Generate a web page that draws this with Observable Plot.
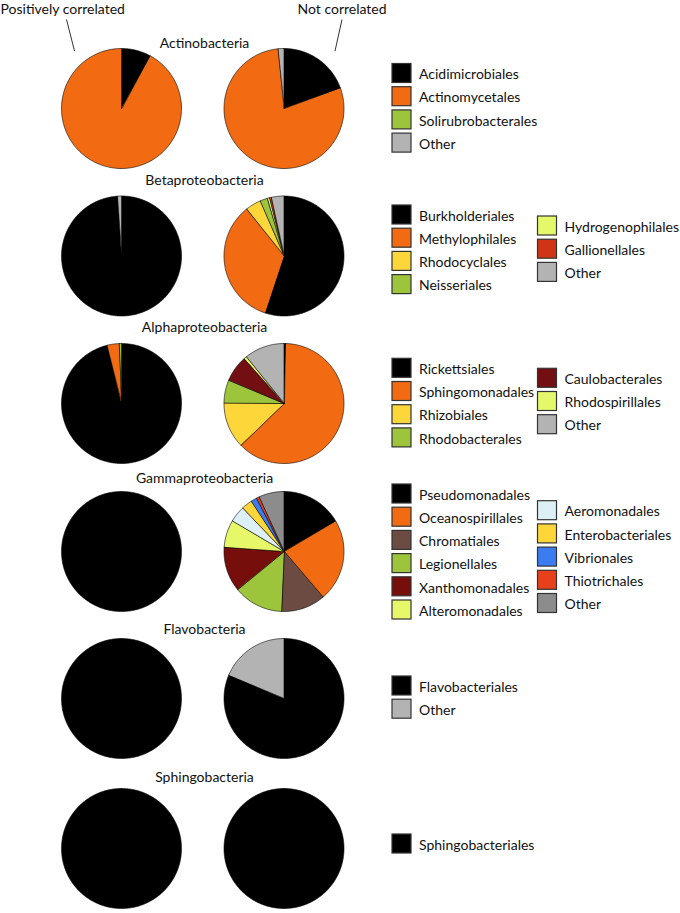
<!DOCTYPE html>
<html>
<head>
<meta charset="utf-8">
<script src="https://cdn.jsdelivr.net/npm/d3@7"></script>
<script src="https://cdn.jsdelivr.net/npm/@observablehq/plot@0.6"></script>
<style>
  html, body { margin: 0; padding: 0; background: #fff; }
  #chart svg { display: block; }
</style>
</head>
<body>
<div id="chart"></div>
<script>
// ---------- DATA ----------
const classNames = ["Actinobacteria", "Betaproteobacteria", "Alphaproteobacteria", "Gammaproteobacteria", "Flavobacteria", "Sphingobacteria"];
const columnLabels = ["Positively correlated", "Not correlated"];

const actinoOrders = ["Acidimicrobiales", "Actinomycetales", "Solirubrobacterales", "Other"];
const actinoPositive = [8, 92, 0, 0];
const actinoNot = [19.5, 79, 0, 1.5];

const betaOrders = ["Burkholderiales", "Methylophilales", "Rhodocyclales", "Neisseriales", "Hydrogenophilales", "Gallionellales", "Other"];
const betaPositive = [99, 0, 0, 0, 0, 0, 1];
const betaNot = [55.1, 34.3, 4.2, 2.0, 0.6, 0.5, 3.3];

const alphaOrders = ["Rickettsiales", "Sphingomonadales", "Rhizobiales", "Rhodobacterales", "Caulobacterales", "Rhodospirillales", "Other"];
const alphaPositive = [96.2, 3.3, 0, 0.5, 0, 0, 0];
const alphaNot = [0.5, 62.3, 12.4, 6.2, 7.1, 0.8, 10.7];

const gammaOrders = ["Pseudomonadales", "Oceanospirillales", "Chromatiales", "Legionellales", "Xanthomonadales", "Alteromonadales", "Aeromonadales", "Enterobacteriales", "Vibrionales", "Thiotrichales", "Other"];
const gammaPositive = [100, 0, 0, 0, 0, 0, 0, 0, 0, 0, 0];
const gammaNot = [16.6, 22.2, 11.9, 13.4, 12.1, 7.4, 4.4, 2.9, 1.6, 0.8, 6.7];

const flavoOrders = ["Flavobacteriales", "Other"];
const flavoPositive = [100, 0];
const flavoNot = [81.4, 18.6];

const sphingoOrders = ["Sphingobacteriales"];
const sphingoPositive = [100];
const sphingoNot = [100];

// ---------- STYLES (colours per order) ----------
const actinoColors = ["#000000", "#F26B12", "#9DC53B", "#B3B3B3"];
const betaColors = ["#000000", "#F26B12", "#FDD73A", "#9DC53B", "#E4F86B", "#CF3417", "#B3B3B3"];
const alphaColors = ["#000000", "#F26B12", "#FDD73A", "#9DC53B", "#730F12", "#E4F86B", "#B3B3B3"];
const gammaColors = ["#000000", "#F26B12", "#6B4B42", "#9DC53B", "#760E0B", "#E6F86A", "#DDF0F5", "#FDD73A", "#3B7CF0", "#E8401B", "#8C8C8C"];
const flavoColors = ["#000000", "#B3B3B3"];
const sphingoColors = ["#000000"];

// ---------- LAYOUT ----------
const W = 680, H = 913;
const R = 60;
const pieCx = [121.5, 284];
const rowCy = [108.5, 256, 403.5, 551.5, 698.5, 848.5];
const titleX = 204;
const titleBase = [47, 184, 331, 482.5, 633, 781];
const legendX = [392, 537.5];
const col1Count = [4, 4, 4, 6, 2, 1];
const col1Top = [63.5, 205, 358.3, 484, 676, 834];
const col2Top = [null, 216, 368.3, 500.7, null, null];
const legendStep = 23.2;
const sw = 19;
const FONT = 14;

const rows = [
  {orders: actinoOrders, vals: [actinoPositive, actinoNot], colors: actinoColors},
  {orders: betaOrders, vals: [betaPositive, betaNot], colors: betaColors},
  {orders: alphaOrders, vals: [alphaPositive, alphaNot], colors: alphaColors},
  {orders: gammaOrders, vals: [gammaPositive, gammaNot], colors: gammaColors},
  {orders: flavoOrders, vals: [flavoPositive, flavoNot], colors: flavoColors},
  {orders: sphingoOrders, vals: [sphingoPositive, sphingoNot], colors: sphingoColors}
];

// colour scale domain/range
const colorDomain = [], colorRange = [];
rows.forEach((r, i) => r.orders.forEach((o, j) => { colorDomain.push(i + "|" + o); colorRange.push(r.colors[j]); }));

// pie slice polygons (computed from values)
const slices = [];
rows.forEach((r, i) => {
  r.vals.forEach((vals, s) => {
    const total = d3.sum(vals);
    const cx = pieCx[s], cy = rowCy[i];
    let a0 = 0;
    vals.forEach((v, j) => {
      if (!(v > 0)) return;
      const a1 = a0 + v / total * 2 * Math.PI;
      const n = Math.max(2, Math.ceil((a1 - a0) / (Math.PI / 180)) + 1);
      for (let k = 0; k < n; k++) {
        const a = a0 + (a1 - a0) * k / (n - 1);
        slices.push({key: i + "-" + s + "-" + j, ckey: i + "|" + r.orders[j], x: cx + R * Math.sin(a), y: cy - R * Math.cos(a), cx, cy});
      }
      a0 = a1;
    });
  });
});

// legend items
const legendItems = [];
rows.forEach((r, i) => {
  r.orders.forEach((o, j) => {
    const col = j < col1Count[i] ? 0 : 1;
    const idx = col ? j - col1Count[i] : j;
    const top = (col ? col2Top[i] : col1Top[i]) + idx * legendStep;
    legendItems.push({order: o, ckey: i + "|" + o, x: legendX[col], top});
  });
});

const titles = classNames.map((name, i) => ({name, y: titleBase[i]}));
const headers = [
  {text: columnLabels[0], x: 0, y: 13},
  {text: columnLabels[1], x: 297, y: 13}
];
const pointers = [
  {x1: 66, y1: 19, x2: 74, y2: 50.5},
  {x1: 341.5, y1: 19, x2: 334.5, y2: 50.5}
];

const chart = Plot.plot({
  width: W,
  height: H,
  margin: 0,
  x: {domain: [0, W], range: [0, W], axis: null},
  y: {domain: [0, H], range: [0, H], axis: null},
  color: {type: "ordinal", domain: colorDomain, range: colorRange},
  style: {fontFamily: "Lato, 'Open Sans', sans-serif", background: "#fff", color: "#111"},
  marks: [
    Plot.area(slices, {x1: "x", y1: "y", x2: "cx", y2: "cy", z: "key", fill: "ckey", stroke: "#000", strokeWidth: 0.6, strokeLinejoin: "round", curve: "linear"}),
    Plot.text(titles, {x: titleX, y: "y", text: "name", textAnchor: "middle", lineAnchor: "bottom", fontSize: FONT, fill: "#111"}),
    Plot.text(headers, {x: "x", y: "y", text: "text", textAnchor: "start", lineAnchor: "bottom", fontSize: FONT, fill: "#111"}),
    Plot.link(pointers, {x1: "x1", y1: "y1", x2: "x2", y2: "y2", stroke: "#333", strokeWidth: 1}),
    Plot.rect(legendItems, {x1: "x", x2: d => d.x + sw, y1: "top", y2: d => d.top + sw, fill: "ckey", stroke: "#333", strokeWidth: 1.2}),
    Plot.text(legendItems, {x: d => d.x + 26.5, y: d => d.top + 15.2, text: "order", textAnchor: "start", lineAnchor: "bottom", fontSize: FONT, fill: "#111"})
  ]
});
document.getElementById("chart").appendChild(chart);
</script>
</body>
</html>
